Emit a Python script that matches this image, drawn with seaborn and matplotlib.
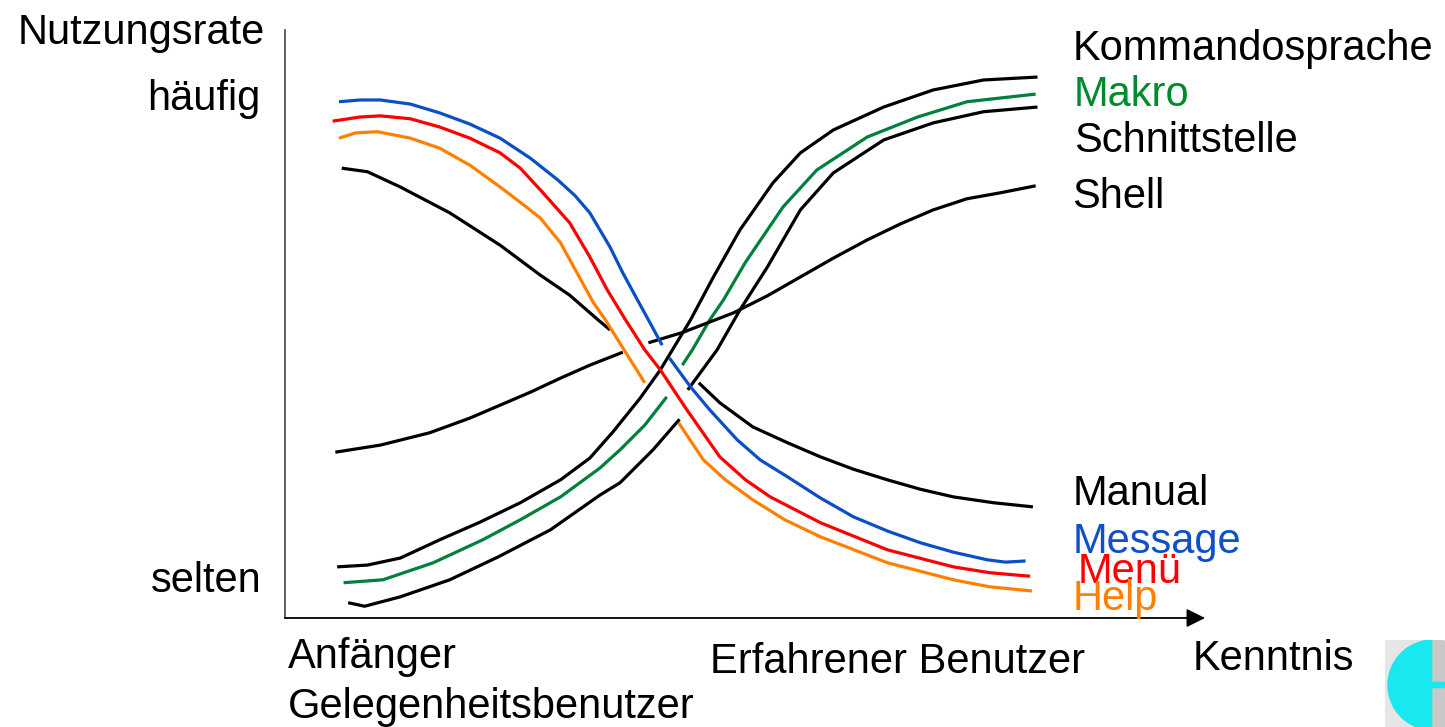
import numpy as np
import pandas as pd
import seaborn as sns
import matplotlib.pyplot as plt
from matplotlib.patches import Wedge, Rectangle

nan = np.nan

# Kenntnis (x) und Nutzungsrate (y), 0..100; nan = Lücke an Kreuzungen
message_x = [5.9, 8.2, 10.4, 13.7, 16.9, 20.2, 23.5, 26.8, 29.8, 31.7, 33.3, 35.5, 36.9, 38.5, 39.7, 41.2,
             nan, 42.0, 44.3, 46.4, 49.4, 51.9, 54.9, 58.5, 62.1, 65.8, 69.4, 73.0, 76.7, 78.7, 80.9]
message_y = [87.8, 88.1, 88.1, 87.4, 85.9, 84.0, 81.6, 78.2, 74.5, 71.8, 68.9, 63.1, 58.7, 54.1, 50.7, 46.4,
             nan, 44.2, 39.3, 35.4, 30.3, 26.9, 24.0, 20.4, 17.2, 14.8, 12.8, 11.2, 9.9, 9.5, 9.7]

menue_x = [5.2, 8.2, 10.4, 13.7, 16.9, 20.2, 23.5, 25.7, 27.9, 31.1, 33.3, 35.2, 37.2, 39.3, 41.0, 43.9,
           47.5, 50.3, 53.0, 58.5, 65.8, 73.0, 77.0, 81.4]
menue_y = [84.5, 85.2, 85.4, 84.9, 83.5, 81.6, 79.1, 76.5, 72.8, 67.2, 61.4, 55.8, 50.7, 45.6, 42.2, 35.4,
           27.4, 23.5, 20.6, 16.2, 11.6, 8.7, 7.7, 7.1]

help_x = [5.9, 7.7, 10.1, 13.7, 16.9, 20.2, 23.5, 26.2, 27.9, 30.1, 31.9, 33.7, 35.0, 37.2, 39.3,
          nan, 43.0, 45.7, 48.1, 51.1, 54.6, 58.5, 65.8, 73.0, 77.0, 81.6]
help_y = [81.6, 82.5, 82.7, 81.6, 79.9, 77.0, 73.3, 70.1, 68.0, 63.8, 58.7, 53.6, 50.7, 45.2, 40.0,
          nan, 33.2, 26.9, 23.5, 20.1, 16.7, 13.8, 9.4, 6.5, 5.3, 4.6]

manual_x = [6.2, 9.0, 12.6, 18.0, 23.5, 27.9, 31.1, 34.2, 35.5,
            nan, 45.2, 47.5, 51.1, 54.9, 58.5, 62.1, 65.8, 69.4, 73.0, 77.4, 81.7]
manual_y = [76.5, 75.9, 73.3, 68.9, 63.4, 58.3, 54.9, 50.7, 49.0,
            nan, 40.0, 36.6, 32.5, 29.8, 27.4, 25.3, 23.5, 21.9, 20.6, 19.6, 18.9]

shell_x = [5.5, 10.4, 15.8, 20.2, 23.5, 26.8, 30.1, 33.3, 36.9,
           nan, 39.7, 43.5, 49.0, 52.7, 56.3, 59.9, 63.6, 67.2, 70.8, 74.5, 78.1, 82.0]
shell_y = [28.2, 29.4, 31.5, 34.0, 36.2, 38.4, 40.8, 43.0, 45.2,
           nan, 46.8, 48.6, 51.9, 54.8, 58.0, 61.2, 64.3, 67.0, 69.4, 71.3, 72.3, 73.5]

kommando_x = [5.7, 9.0, 12.6, 16.9, 21.3, 25.7, 30.1, 33.3, 35.8, 38.8, 41.0, 44.3, 46.8, 49.7, 53.3,
              56.3, 59.9, 65.4, 70.8, 76.3, 82.2]
kommando_y = [8.7, 9.0, 10.2, 13.3, 16.3, 19.6, 23.5, 27.2, 31.6, 37.4, 42.2, 50.7, 58.0, 66.0, 74.0,
              79.1, 83.0, 86.9, 89.8, 91.5, 92.0]

makro_x = [6.4, 10.7, 16.2, 21.6, 25.7, 30.1, 34.4, 36.6, 39.3, 41.7,
           nan, 43.4, 44.5, 46.4, 47.9, 50.3, 54.4, 58.1, 63.6, 69.1, 74.5, 82.0]
makro_y = [6.0, 6.5, 9.4, 13.3, 16.7, 20.6, 25.5, 28.6, 32.8, 37.6,
           nan, 43.0, 45.6, 50.7, 54.1, 60.5, 69.9, 76.2, 81.8, 85.2, 87.8, 89.1]

schnitt_x = [6.9, 8.7, 12.6, 18.0, 23.3, 29.0, 34.4, 36.6, 40.2, 43.1,
             nan, 44.0, 47.2, 49.7, 52.7, 56.3, 59.9, 65.4, 70.8, 76.3, 82.2]
schnitt_y = [2.6, 2.0, 3.6, 6.5, 10.4, 15.0, 20.9, 23.0, 28.6, 33.8,
             nan, 38.8, 45.6, 52.4, 59.7, 69.4, 75.7, 81.3, 84.2, 86.1, 86.9]

curves = {
    'Kommandosprache': (kommando_x, kommando_y),
    'Makro': (makro_x, makro_y),
    'Schnittstelle': (schnitt_x, schnitt_y),
    'Shell': (shell_x, shell_y),
    'Manual': (manual_x, manual_y),
    'Message': (message_x, message_y),
    'Menü': (menue_x, menue_y),
    'Help': (help_x, help_y),
}
colors = {
    'Kommandosprache': 'black', 'Makro': '#00803c', 'Schnittstelle': 'black', 'Shell': 'black',
    'Manual': 'black', 'Message': '#0a4fc8', 'Menü': '#ff0000', 'Help': '#ff8000',
}
text_colors = {
    'Kommandosprache': 'black', 'Makro': '#008a2e', 'Schnittstelle': 'black', 'Shell': 'black',
    'Manual': 'black', 'Message': '#0f4fc8', 'Menü': '#ff0000', 'Help': '#ff8000',
}
# label positions (x left edge, y baseline) in data units
label_pos = {
    'Kommandosprache': (86.0, 94.9), 'Makro': (86.2, 87.1), 'Schnittstelle': (86.2, 79.3),
    'Shell': (86.0, 69.7), 'Manual': (86.0, 19.2), 'Message': (86.0, 11.1),
    'Menü': (86.6, 6.0), 'Help': (86.0, 1.4),
}

# long form, one unit per unbroken segment
rows = []
for name, (xs, ys) in curves.items():
    seg = 0
    for x, y in zip(xs, ys):
        if np.isnan(x):
            seg += 1
            continue
        rows.append({'Kenntnis': x, 'Nutzungsrate': y, 'Kurve': name, 'seg': f'{name}_{seg}'})
df = pd.DataFrame(rows)

sns.set_theme(style='white')
plt.rcParams['font.family'] = ['Liberation Sans', 'DejaVu Sans']
plt.rcParams['text.color'] = 'black'

fig = plt.figure(figsize=(14.45, 7.27), dpi=100)
ax = fig.add_axes([285 / 1445, 109 / 727, 920 / 1445, 588 / 727])

sns.lineplot(data=df, x='Kenntnis', y='Nutzungsrate', hue='Kurve', units='seg', estimator=None,
             sort=False, palette=colors, linewidth=2.3, legend=False, ax=ax,
             solid_joinstyle='round', solid_capstyle='butt')

ax.set_xlim(0, 100.5)
ax.set_ylim(0, 100)
ax.set_xticks([])
ax.set_yticks([])
ax.set_xlabel('')
ax.set_ylabel('')
for s in ['top', 'right', 'bottom']:
    ax.spines[s].set_visible(False)
ax.spines['left'].set_color('#555555')
ax.spines['left'].set_linewidth(1.3)
ax.annotate('', xy=(1, 0), xytext=(0, 0), xycoords='axes fraction',
            arrowprops=dict(arrowstyle='-|>', color='#555555', lw=1.3, mutation_scale=28,
                            shrinkA=0, shrinkB=0, fc='black', ec='black'))

fs = 30
for name, (tx, ty) in label_pos.items():
    ax.text(tx, ty, name, color=text_colors[name], fontsize=fs, va='baseline', ha='left')

ax.text(-2.2, 97.6, 'Nutzungsrate', fontsize=fs, va='baseline', ha='right', color='black')
ax.text(-2.7, 86.4, 'häufig', fontsize=fs, va='baseline', ha='right', color='black')
ax.text(-2.5, 4.4, 'selten', fontsize=fs, va='baseline', ha='right', color='black')
ax.text(0.3, -8.5, 'Anfänger', fontsize=fs, va='baseline', ha='left', color='black')
ax.text(0.3, -17.0, 'Gelegenheitsbenutzer', fontsize=fs, va='baseline', ha='left', color='black')
ax.text(46.4, -9.4, 'Erfahrener Benutzer', fontsize=fs, va='baseline', ha='left', color='black')
ax.text(99.1, -8.8, 'Kenntnis', fontsize=fs, va='baseline', ha='left', color='black')

# logo fragment bottom right
lax = fig.add_axes([1385 / 1445, 0, 60 / 1445, 87 / 727])
lax.set_xlim(0, 60)
lax.set_ylim(0, 87)
lax.axis('off')
lax.add_patch(Rectangle((0, 0), 60, 87, color='#e6e6e6', zorder=0))
lax.add_patch(Wedge((48, 42), 45, 90, 270, color='#19e8ef', zorder=1))
lax.add_patch(Wedge((48, 42), 45, -90, 90, color='#c8c8c8', zorder=1))
lax.add_patch(Rectangle((40, 40), 20, 5, color='#19e8ef', zorder=2))

fig.savefig('out.png', dpi=100)
